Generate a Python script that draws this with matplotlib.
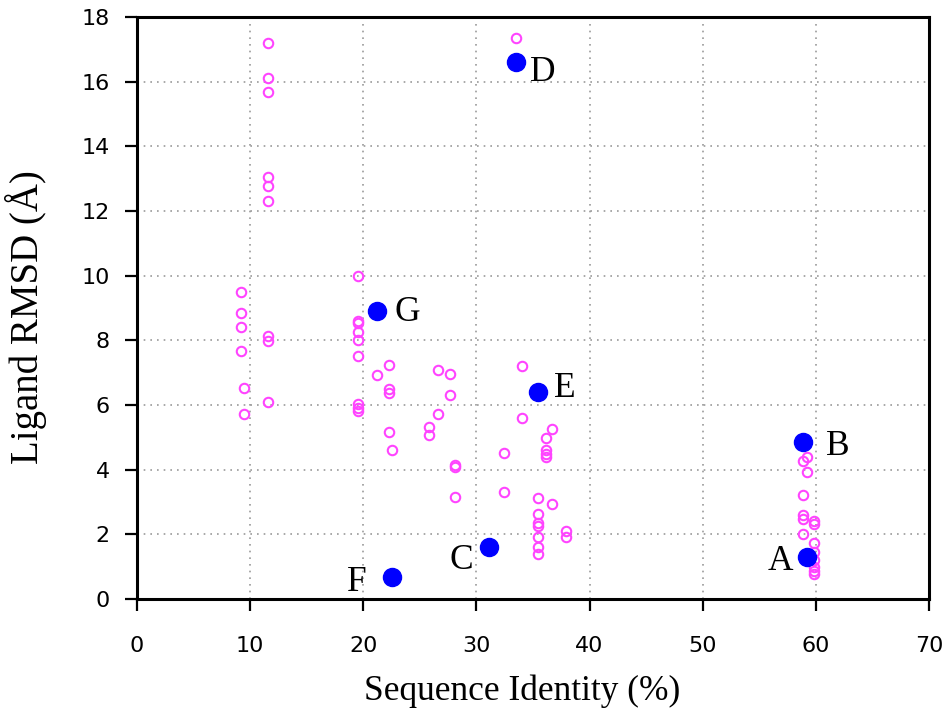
import matplotlib
matplotlib.use('Agg')
import matplotlib.pyplot as plt

# все измеренные точки (розовые кольца)
all_x = [11.6, 11.6, 11.6, 11.6, 11.6, 11.6, 11.6, 11.6, 11.6,
         9.2, 9.2, 9.2, 9.2, 9.5, 9.5,
         19.57, 19.57, 19.57, 19.57, 19.57, 19.57, 19.57, 19.57, 19.57,
         21.19, 22.27, 22.27, 22.27, 22.27, 22.57,
         25.81, 25.81, 26.63, 26.63, 27.66, 27.66,
         28.11, 28.11, 28.11, 32.44, 32.44, 33.5, 34.05, 34.05,
         35.47, 35.47, 35.47, 35.47, 35.47, 35.47, 35.47,
         36.12, 36.12, 36.12, 36.12, 36.71, 36.71, 37.89, 37.89,
         58.84, 58.84, 58.84, 58.84, 58.84, 59.24, 59.24,
         59.86, 59.86, 59.86, 59.86, 59.86, 59.86, 59.86, 59.86,
         59.24, 58.84, 31.14, 33.5, 35.47, 22.51, 21.19]
all_y = [17.19, 16.10, 15.69, 13.06, 12.77, 12.31, 8.13, 7.98, 6.09,
         9.49, 8.83, 8.41, 7.67, 6.52, 5.72,
         10.0, 8.61, 8.55, 8.27, 8.01, 7.53, 6.02, 5.90, 5.82,
         6.92, 7.24, 6.49, 6.38, 5.16, 4.60,
         5.31, 5.07, 7.08, 5.72, 6.97, 6.32,
         4.14, 4.07, 3.16, 4.53, 3.32, 17.36, 7.20, 5.59,
         3.11, 2.62, 2.34, 2.26, 1.93, 1.62, 1.39,
         4.97, 4.61, 4.49, 4.40, 5.25, 2.94, 2.11, 1.91,
         4.28, 3.22, 2.60, 2.46, 2.01, 4.38, 3.92,
         2.40, 2.31, 1.74, 1.44, 1.21, 1.00, 0.86, 0.76,
         1.31, 4.85, 1.60, 16.62, 6.40, 0.67, 8.92]

# выделенные структуры (синие точки)
sel_names = ['A', 'B', 'C', 'D', 'E', 'F', 'G']
sel_x = [59.24, 58.84, 31.14, 33.5, 35.47, 22.51, 21.19]
sel_y = [1.31, 4.85, 1.60, 16.62, 6.40, 0.67, 8.92]

# смещения подписей в пикселях и выравнивание
label_offsets = {'A': (-14, -13, 'right'), 'B': (23, -13, 'left'),
                 'C': (-16, -22, 'right'), 'D': (14, -19, 'left'),
                 'E': (16, -5, 'left'), 'F': (-25, -14, 'right'),
                 'G': (18, -10, 'left')}

serif = ['Liberation Serif', 'DejaVu Serif']

fig = plt.figure(figsize=(9.5, 7.16), dpi=100)
ax = fig.add_axes([0.1442, 0.1634, 0.8337, 0.8129])

ax.plot(all_x, all_y, linestyle='none', marker='o', markersize=6.8,
        markerfacecolor='none', markeredgecolor='#ff44ff', markeredgewidth=1.5, zorder=3)
ax.plot(sel_x, sel_y, linestyle='none', marker='o', markersize=13,
        markerfacecolor='#0000ff', markeredgecolor='#0000ff', zorder=4)

for name, x, y in zip(sel_names, sel_x, sel_y):
    dx, dy, ha = label_offsets[name]
    ax.annotate(name, (x, y), xytext=(dx, dy), textcoords='offset pixels',
                ha=ha, va='baseline', fontsize=25.5, family=serif, zorder=5)

ax.set_xlim(0, 70)
ax.set_ylim(0, 18)
ax.set_xticks(range(0, 71, 10))
ax.set_yticks(range(0, 19, 2))

ax.grid(True, color='#9a9a9a', linestyle=(0, (1, 3)), linewidth=1.2)
ax.set_axisbelow(True)

for sp in ax.spines.values():
    sp.set_linewidth(2.2)
ax.tick_params(axis='both', direction='out', length=8.6, width=1.6, labelsize=16)
ax.tick_params(axis='x', pad=18)
ax.tick_params(axis='y', pad=11)

ax.set_xlabel('Sequence Identity (%)', fontsize=25.5, family=serif)
ax.set_ylabel('Ligand RMSD (Å)', fontsize=28, family=serif)
ax.xaxis.set_label_coords(0.486, -0.129)
ax.yaxis.set_label_coords(-0.1136, 0.485)

fig.savefig('out.png', dpi=100)
